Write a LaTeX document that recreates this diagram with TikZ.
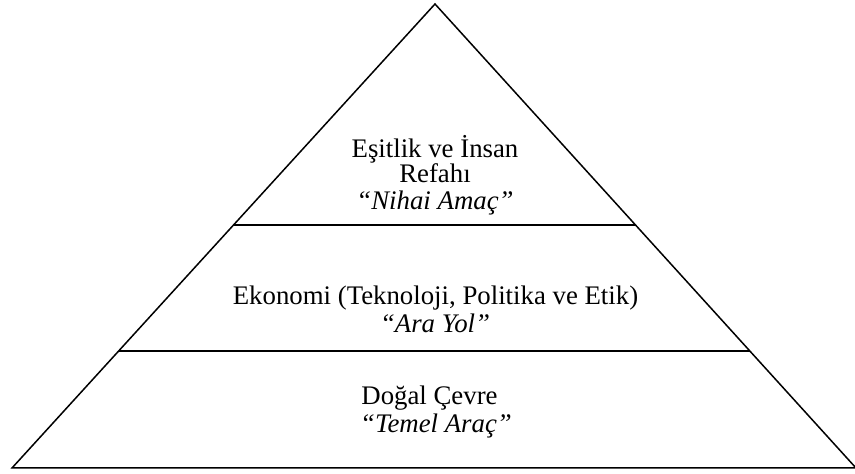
\documentclass[tikz,border=0pt]{standalone}
\usepackage{fontspec}
\setmainfont{Liberation Serif}
\usetikzlibrary{calc}
\begin{document}
\begin{tikzpicture}[x=1pt,y=1pt,
  edge/.style={line width=1.5pt, line join=miter},
  tier/.style={line width=1.1pt},
  lbl/.style={anchor=base, inner sep=0pt, font=\fontsize{26.8}{28}\selectfont},
  ilbl/.style={lbl, font=\fontsize{26.8}{28}\selectfont\itshape}]
\useasboundingbox (0,0) rectangle (855,474);
% pyramid outline
\coordinate (apex) at (435,470);
\coordinate (bl) at (12,6);
\coordinate (br) at (856,6);
\draw[edge] (bl) -- (apex) -- (br) -- cycle;
% tier dividers
\coordinate (u1) at ($(bl)!0.5237!(apex)$);
\coordinate (u2) at ($(br)!0.5237!(apex)$);
\coordinate (d1) at ($(bl)!0.2522!(apex)$);
\coordinate (d2) at ($(br)!0.2522!(apex)$);
\draw[tier] (u1) -- (u2);
\draw[tier] (d1) -- (d2);
% top tier
\node[lbl] (t1) at (435,316) {Eşitlik ve İnsan};
\node[lbl] (t2) at (435,291) {Refahı};
\node[ilbl] (t3) at (435,264) {“Nihai Amaç”};
% middle tier
\node[lbl] (m1) at (435.5,169) {Ekonomi (Teknoloji, Politika ve Etik)};
\node[ilbl] (m2) at (435,141) {“Ara Yol”};
% bottom tier
\node[lbl] (b1) at (429.5,69) {Doğal Çevre};
\node[ilbl] (b2) at (436,41) {“Temel Araç”};
\end{tikzpicture}
\end{document}
